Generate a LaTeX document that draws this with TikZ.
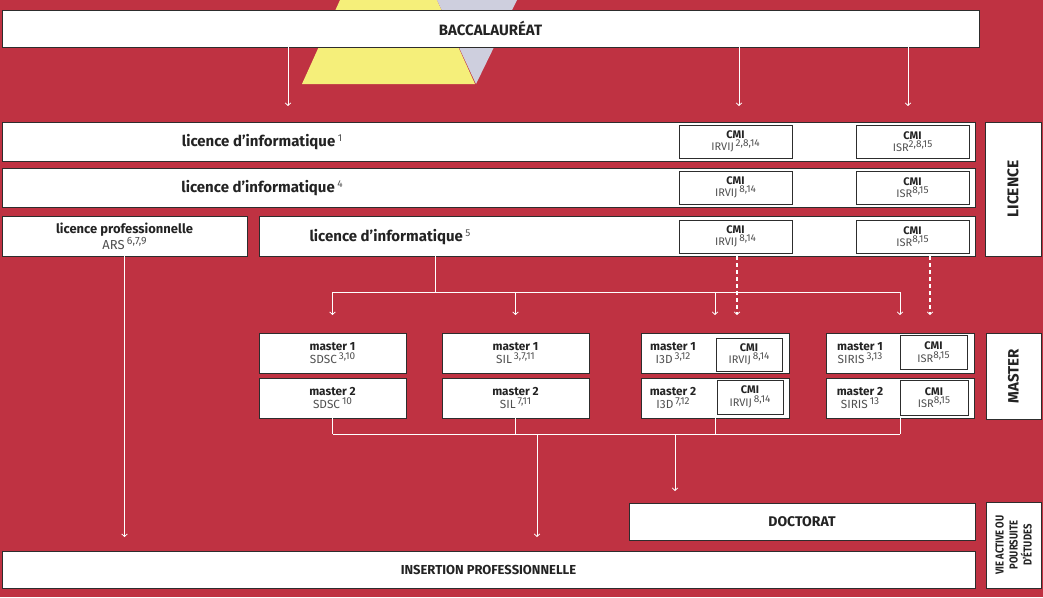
\documentclass[tikz,border=0pt]{standalone}
\usepackage{fontspec}
\setmainfont{Fira Sans}
\usetikzlibrary{arrows.meta}
\definecolor{bgred}{RGB}{191,50,66}
\definecolor{triyellow}{RGB}{245,239,122}
\definecolor{trigrey}{RGB}{206,207,222}
\definecolor{boxline}{RGB}{45,45,45}
\definecolor{txtdark}{RGB}{35,35,35}
\definecolor{txtgrey}{RGB}{80,80,80}
\newcommand{\sups}[2][10]{\raisebox{0.36em}{\fontsize{#1}{#1}\selectfont\mdseries\color{txtgrey}#2}}
\newcommand{\sub}[1]{{\mdseries\color{txtgrey}#1}}
\newcommand{\narrow}[1]{\scalebox{0.82}[1]{#1}}
\tikzset{
  box/.style={draw=boxline, fill=white, line width=0.9pt, anchor=north west, inner sep=0pt, outer sep=0pt},
  txt/.style={text=txtdark, align=center, inner sep=0pt, font=\bfseries},
  wline/.style={draw=white, line width=0.8pt},
  arr/.style={draw=white, line width=0.8pt, -{Straight Barb[length=2.5pt,width=5.5pt]}},
  darr/.style={draw=white, line width=1.5pt, dash pattern=on 4pt off 3pt, -{Straight Barb[length=2.5pt,width=5.5pt,line width=0.8pt]}},
  fcmi/.style={font=\bfseries\fontsize{11}{12.5}\selectfont},
  fmas/.style={font=\bfseries\fontsize{11.8}{13.5}\selectfont},
}
\begin{document}
\begin{tikzpicture}[x=1pt,y=-1pt]
\useasboundingbox (0,0) rectangle (1043,597);
\fill[bgred] (0,0) rectangle (1043,597);
% decorative triangles
\fill[triyellow] (340,0) -- (437,0) -- (475,84) -- (302,84) -- cycle;
\fill[trigrey] (437,0) -- (517,0) -- (476,84) -- cycle;

% boxes
\node[box, minimum width=977pt, minimum height=37pt] (bac) at (2,10) {};
\node[box, minimum width=973pt, minimum height=39pt] (lic1) at (2,122) {};
\node[box, minimum width=973pt, minimum height=39pt] (lic4) at (2,168) {};
\node[box, minimum width=245pt, minimum height=40pt] (licpro) at (2,216) {};
\node[box, minimum width=716pt, minimum height=40pt] (lic5) at (259,216) {};
\node[box, minimum width=113pt, minimum height=33pt] (cmi1a) at (679,125) {};
\node[box, minimum width=113pt, minimum height=33pt] (cmi1b) at (856,125) {};
\node[box, minimum width=113pt, minimum height=33pt] (cmi4a) at (679,171) {};
\node[box, minimum width=113pt, minimum height=33pt] (cmi4b) at (856,171) {};
\node[box, minimum width=113pt, minimum height=33pt] (cmi5a) at (679,220) {};
\node[box, minimum width=113pt, minimum height=33pt] (cmi5b) at (856,220) {};
\node[box, minimum width=56pt, minimum height=134pt] (sideL) at (985,122) {};

\node[box, minimum width=147pt, minimum height=40pt] (m1a) at (259,333) {};
\node[box, minimum width=147pt, minimum height=40pt] (m2a) at (259,378) {};
\node[box, minimum width=147pt, minimum height=40pt] (m1b) at (442,333) {};
\node[box, minimum width=147pt, minimum height=40pt] (m2b) at (442,378) {};
\node[box, minimum width=148pt, minimum height=40pt] (m1c) at (641,333) {};
\node[box, minimum width=148pt, minimum height=40pt] (m2c) at (641,378) {};
\node[box, minimum width=148pt, minimum height=40pt] (m1d) at (826,333) {};
\node[box, minimum width=148pt, minimum height=40pt] (m2d) at (826,378) {};
\node[box, minimum width=66pt, minimum height=33pt] (cm1c) at (716,338) {};
\node[box, minimum width=66pt, minimum height=34pt] (cm2c) at (717,380) {};
\node[box, minimum width=67pt, minimum height=34pt] (cm1d) at (900,335) {};
\node[box, minimum width=68pt, minimum height=35pt] (cm2d) at (900,380) {};
\node[box, minimum width=55pt, minimum height=86pt] (sideM) at (986,333) {};

\node[box, minimum width=346pt, minimum height=37pt] (doc) at (629,503) {};
\node[box, minimum width=973pt, minimum height=37pt] (ins) at (2,551) {};
\node[box, minimum width=55pt, minimum height=86pt] (sideV) at (986,502) {};

% texts
\node[txt, font=\bfseries\fontsize{15}{17}\selectfont] (tbac) at (bac) {BACCALAURÉAT};
\node[txt, font=\bfseries\fontsize{15}{17}\selectfont] (tlic1) at (262,142) {licence d’informatique\,\sups{1}};
\node[txt, font=\bfseries\fontsize{15}{17}\selectfont] (tlic4) at (262,188) {licence d’informatique\,\sups{4}};
\node[txt, font=\bfseries\fontsize{15}{17}\selectfont] (tlic5) at (390,237) {licence d’informatique\,\sups{5}};
\node[txt, font=\bfseries\fontsize{13}{14}\selectfont] (tlicpro) at (licpro) {licence professionnelle\\\sub{ARS}\,\sups[10.5]{6,7,9}};
\foreach \n/\a/\b in {cmi1a/IRVIJ\,/{2,8,14}, cmi1b/ISR/{2,8,15}, cmi4a/IRVIJ\,/{8,14}, cmi4b/ISR/{8,15}, cmi5a/IRVIJ\,/{8,14}, cmi5b/ISR/{8,15}, cm1c/IRVIJ\,/{8,14}, cm2c/IRVIJ\,/{8,14}, cm1d/ISR/{8,15}, cm2d/ISR/{8,15}}
  \node[txt, fcmi] (t\n) at (\n) {CMI\\\sub{\a}\sups{\b}};
\node[txt, fmas] (tm1a) at (m1a) {master 1\\\sub{SDSC}\,\sups{3,10}};
\node[txt, fmas] (tm2a) at (m2a) {master 2\\\sub{SDSC}\,\sups{10}};
\node[txt, fmas] (tm1b) at (m1b) {master 1\\\sub{SIL}\,\sups{3,7,11}};
\node[txt, fmas] (tm2b) at (m2b) {master 2\\\sub{SIL}\,\sups{7,11}};
\node[txt, fmas] (tm1c) at (673,353) {master 1\\\sub{I3D}\,\sups{3,12}};
\node[txt, fmas] (tm2c) at (673,398) {master 2\\\sub{I3D}\,\sups{7,12}};
\node[txt, fmas] (tm1d) at (860,353) {master 1\\\sub{SIRIS}\,\sups{3,13}};
\node[txt, fmas] (tm2d) at (860,398) {master 2\\\sub{SIRIS}\,\sups{13}};
\node[txt, rotate=90, font=\bfseries\fontsize{15.5}{17}\selectfont] (tsideL) at (sideL) {LICENCE};
\node[txt, rotate=90, font=\bfseries\fontsize{15}{17}\selectfont] (tsideM) at (sideM) {MASTER};
\node[txt, rotate=90, font=\bfseries\fontsize{11.5}{14}\selectfont] (tsideV) at (sideV) {\narrow{VIE ACTIVE OU}\\\narrow{POURSUITE}\\\narrow{D’ÉTUDES}};
\node[txt, font=\bfseries\fontsize{14}{16}\selectfont] (tdoc) at (doc) {DOCTORAT};
\node[txt, font=\bfseries\fontsize{13}{15}\selectfont] (tins) at (ins) {INSERTION PROFESSIONNELLE};

% connectors from baccalaureat
\coordinate (xa) at (288,0);
\coordinate (xb) at (739,0);
\coordinate (xc) at (908,0);
\draw[arr, shorten >=16pt] (bac.south -| xa) -- (lic1.north -| xa);
\draw[arr, shorten >=19pt] (bac.south -| xb) -- (cmi1a.north -| xb);
\draw[arr, shorten >=19pt] (bac.south -| xc) -- (cmi1b.north -| xc);

% licence pro to insertion
\draw[arr, shorten >=14pt] (licpro.south) -- (ins.north -| licpro.south);

% licence 5 to masters
\coordinate (j1) at (435,292);
\draw[wline] (lic5.south -| j1) -- (j1);
\draw[wline] (m1a.north |- j1) -- (m1d.north |- j1);
\draw[arr, shorten >=18pt] (m1a.north |- j1) -- (m1a.north);
\draw[arr, shorten >=18pt] (m1b.north |- j1) -- (m1b.north);
\draw[arr, shorten >=18pt] (m1c.north |- j1) -- (m1c.north);
\draw[arr, shorten >=18pt] (m1d.north |- j1) -- (m1d.north);
\coordinate (d1) at (737,0);
\coordinate (d2) at (930,0);
\draw[darr, shorten >=18pt] (lic5.south -| d1) -- (m1c.north -| d1);
\draw[darr, shorten >=18pt] (lic5.south -| d2) -- (m1d.north -| d2);

% masters to outcomes
\coordinate (j2) at (0,434);
\draw[wline] (m2a.south) -- (m2a.south |- j2);
\draw[wline] (m2b.south) -- (m2b.south |- j2);
\draw[wline] (m2c.south) -- (m2c.south |- j2);
\draw[wline] (m2d.south) -- (m2d.south |- j2);
\draw[wline] (m2a.south |- j2) -- (m2d.south |- j2);
\coordinate (xi) at (537,434);
\coordinate (xd) at (675,434);
\draw[arr, shorten >=14pt] (xi) -- (ins.north -| xi);
\draw[arr, shorten >=12pt] (xd) -- (doc.north -| xd);
\end{tikzpicture}
\end{document}
